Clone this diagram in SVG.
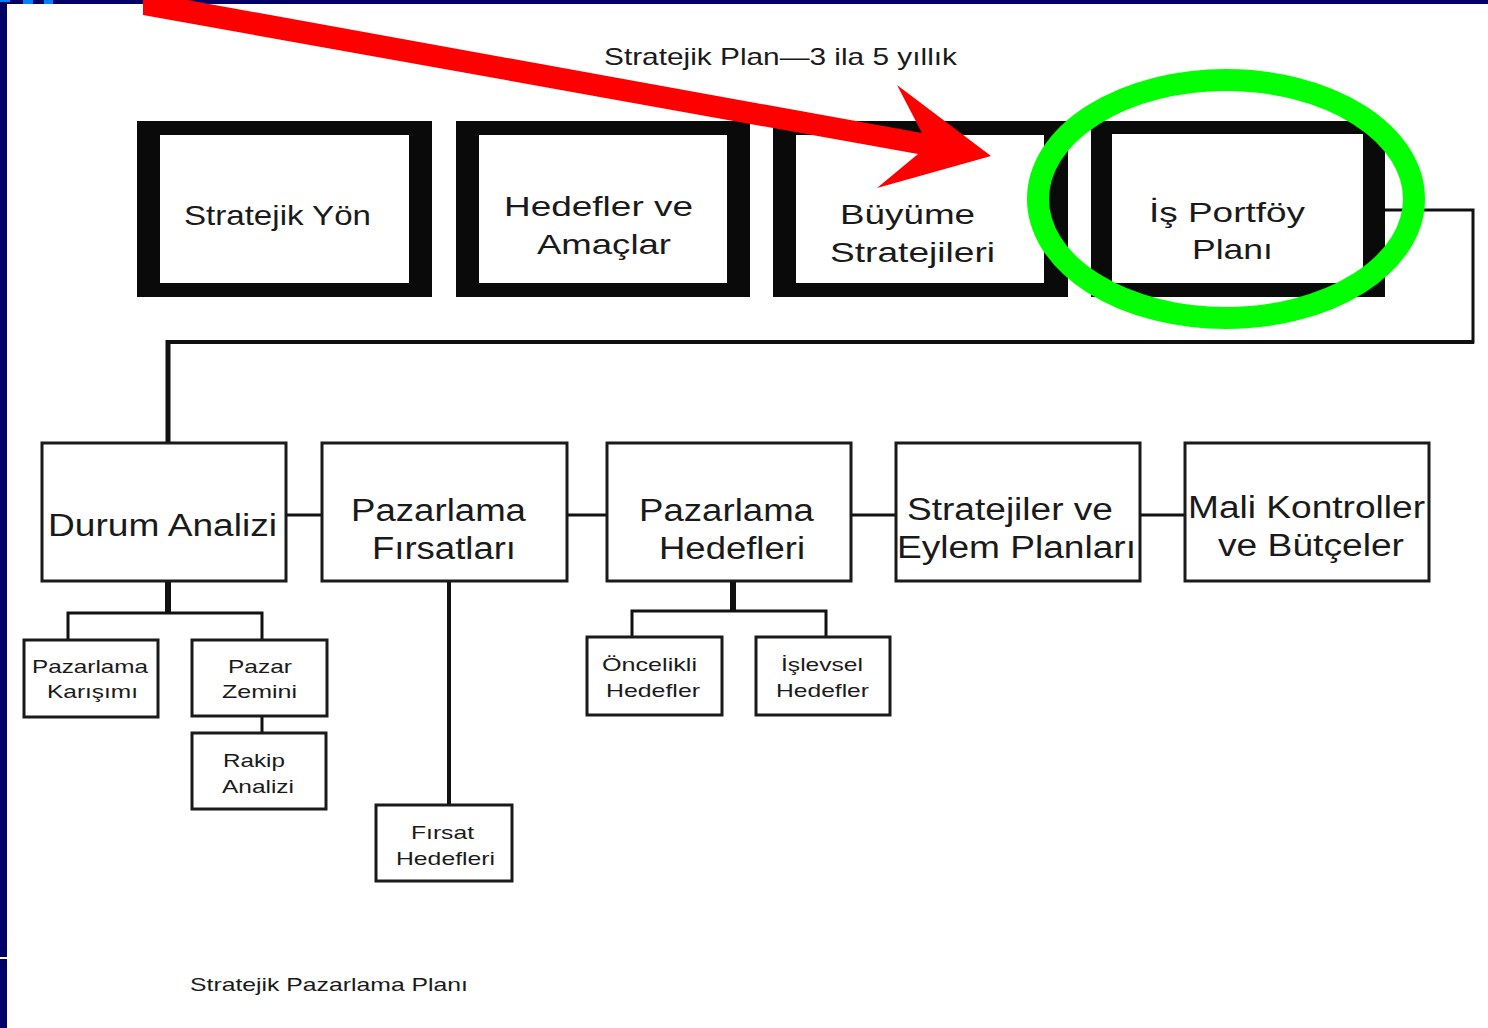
<svg xmlns="http://www.w3.org/2000/svg" width="1488" height="1028" viewBox="0 0 1488 1028">
<defs>
<style>
text{font-family:"Liberation Sans",Arial,sans-serif;fill:#1a1a1a}
.t{font-size:28px}
.m{font-size:31px}
.s{font-size:19px}
.box{fill:#fff;stroke:#1a1a1a;stroke-width:3}
.bk{fill:#0a0a0a}
.ln{fill:none;stroke:#111;stroke-width:3;stroke-linejoin:miter}
</style>
</defs>
<rect width="1488" height="1028" fill="#fff"/>
<g id="frame">
<rect x="0" y="0" width="1488" height="4" fill="#000066"/>
<rect x="0" y="0" width="7" height="957" fill="#000066"/>
<rect x="0" y="959" width="7" height="69" fill="#000066"/>
<rect x="0" y="0" width="10" height="2" fill="#0080ff"/>
<rect x="23" y="0" width="10" height="4" fill="#0080ff"/>
<rect x="44" y="0" width="9" height="4" fill="#0080ff"/>
</g>
<text id="title" x="604" y="65" font-size="24" textLength="353" lengthAdjust="spacingAndGlyphs">Stratejik Plan—3 ila 5 yıllık</text>
<g id="connectors">
<polyline class="ln" points="1385,210 1473,210 1473,342 168,342"/>
<line x1="168" y1="340" x2="168" y2="443" stroke="#111" stroke-width="5"/>
<line x1="168" y1="342" x2="1474" y2="342" stroke="#111" stroke-width="4"/>
<line x1="286" y1="515" x2="322" y2="515" class="ln"/>
<line x1="567" y1="515" x2="607" y2="515" class="ln"/>
<line x1="851" y1="515" x2="896" y2="515" class="ln"/>
<line x1="1140" y1="515" x2="1185" y2="515" class="ln"/>
<line x1="168" y1="581" x2="168" y2="613" stroke="#111" stroke-width="6"/>
<polyline class="ln" points="68,640 68,613 262,613 262,640"/>
<line x1="262" y1="716" x2="262" y2="733" class="ln"/>
<line x1="449" y1="581" x2="449" y2="805" stroke="#111" stroke-width="4"/>
<line x1="733" y1="581" x2="733" y2="611" stroke="#111" stroke-width="6"/>
<polyline class="ln" points="632,637 632,611 826,611 826,637"/>
</g>
<g id="n-stratejik-yon">
<rect class="bk" x="137" y="121" width="295" height="176"/>
<rect x="160" y="135" width="249" height="148" fill="#fff"/>
<text class="t" x="184" y="225" textLength="187" lengthAdjust="spacingAndGlyphs">Stratejik Yön</text>
</g>
<g id="n-hedefler">
<rect class="bk" x="456" y="121" width="294" height="176"/>
<rect x="479" y="135" width="248" height="148" fill="#fff"/>
<text class="t" x="504" y="216" textLength="189" lengthAdjust="spacingAndGlyphs">Hedefler ve</text>
<text class="t" x="537" y="254" textLength="134" lengthAdjust="spacingAndGlyphs">Amaçlar</text>
</g>
<g id="n-buyume">
<rect class="bk" x="773" y="121" width="295" height="176"/>
<rect x="796" y="135" width="248" height="148" fill="#fff"/>
<text class="t" x="840" y="224" textLength="135" lengthAdjust="spacingAndGlyphs">Büyüme</text>
<text class="t" x="830" y="262" textLength="165" lengthAdjust="spacingAndGlyphs">Stratejileri</text>
</g>
<g id="n-portfoy">
<rect class="bk" x="1091" y="121" width="294" height="176"/>
<rect x="1112" y="134" width="251" height="149" fill="#fff"/>
<text class="t" x="1149" y="222" textLength="156" lengthAdjust="spacingAndGlyphs">İş Portföy</text>
<text class="t" x="1192" y="259" textLength="81" lengthAdjust="spacingAndGlyphs">Planı</text>
</g>
<g id="n-durum">
<rect class="box" x="42" y="443" width="244" height="138"/>
<text class="m" x="48" y="536" textLength="229" lengthAdjust="spacingAndGlyphs">Durum Analizi</text>
</g>
<g id="n-firsatlar">
<rect class="box" x="322" y="443" width="245" height="138"/>
<text class="m" x="351" y="521" textLength="175" lengthAdjust="spacingAndGlyphs">Pazarlama</text>
<text class="m" x="372" y="559" textLength="144" lengthAdjust="spacingAndGlyphs">Fırsatları</text>
</g>
<g id="n-paz-hedefleri">
<rect class="box" x="607" y="443" width="244" height="138"/>
<text class="m" x="639" y="521" textLength="175" lengthAdjust="spacingAndGlyphs">Pazarlama</text>
<text class="m" x="659" y="559" textLength="146" lengthAdjust="spacingAndGlyphs">Hedefleri</text>
</g>
<g id="n-stratejiler">
<rect class="box" x="896" y="443" width="244" height="138"/>
<text class="m" x="907" y="520" textLength="206" lengthAdjust="spacingAndGlyphs">Stratejiler ve</text>
<text class="m" x="897" y="558" textLength="239" lengthAdjust="spacingAndGlyphs">Eylem Planları</text>
</g>
<g id="n-mali">
<rect class="box" x="1185" y="443" width="244" height="138"/>
<text class="m" x="1188" y="518" textLength="237" lengthAdjust="spacingAndGlyphs">Mali Kontroller</text>
<text class="m" x="1218" y="556" textLength="186" lengthAdjust="spacingAndGlyphs">ve Bütçeler</text>
</g>
<g id="n-karisim">
<rect class="box" x="24" y="640" width="134" height="77"/>
<text class="s" x="32" y="673" textLength="116" lengthAdjust="spacingAndGlyphs">Pazarlama</text>
<text class="s" x="47" y="698" textLength="91" lengthAdjust="spacingAndGlyphs">Karışımı</text>
</g>
<g id="n-zemin">
<rect class="box" x="192" y="640" width="135" height="76"/>
<text class="s" x="228" y="673" textLength="64" lengthAdjust="spacingAndGlyphs">Pazar</text>
<text class="s" x="222" y="698" textLength="75" lengthAdjust="spacingAndGlyphs">Zemini</text>
</g>
<g id="n-rakip">
<rect class="box" x="192" y="733" width="134" height="76"/>
<text class="s" x="223" y="767" textLength="62" lengthAdjust="spacingAndGlyphs">Rakip</text>
<text class="s" x="222" y="793" textLength="72" lengthAdjust="spacingAndGlyphs">Analizi</text>
</g>
<g id="n-firsat-hedef">
<rect class="box" x="376" y="805" width="136" height="76"/>
<text class="s" x="411" y="839" textLength="63" lengthAdjust="spacingAndGlyphs">Fırsat</text>
<text class="s" x="396" y="865" textLength="99" lengthAdjust="spacingAndGlyphs">Hedefleri</text>
</g>
<g id="n-oncelikli">
<rect class="box" x="587" y="637" width="135" height="78"/>
<text class="s" x="602" y="671" textLength="95" lengthAdjust="spacingAndGlyphs">Öncelikli</text>
<text class="s" x="606" y="697" textLength="94" lengthAdjust="spacingAndGlyphs">Hedefler</text>
</g>
<g id="n-islevsel">
<rect class="box" x="756" y="637" width="134" height="78"/>
<text class="s" x="781" y="671" textLength="82" lengthAdjust="spacingAndGlyphs">İşlevsel</text>
<text class="s" x="776" y="697" textLength="93" lengthAdjust="spacingAndGlyphs">Hedefler</text>
</g>
<text id="footer" x="190" y="991" font-size="19" textLength="278" lengthAdjust="spacingAndGlyphs">Stratejik Pazarlama Planı</text>
<g id="highlight">
<ellipse cx="1226" cy="199" rx="188" ry="119" fill="none" stroke="#00ff00" stroke-width="22"/>
<polygon points="143,-8 922,133 897,85 991,156 877,188 918,154 143,15" fill="#ff0000"/>
</g>
</svg>
